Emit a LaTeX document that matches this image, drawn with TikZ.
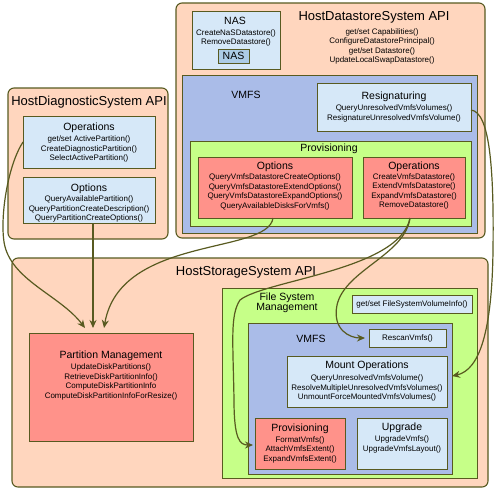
\documentclass[tikz,border=0pt]{standalone}
\usepackage{fontspec}
\setmainfont{Liberation Sans}
\usetikzlibrary{arrows.meta}
\definecolor{edgeline}{RGB}{88,90,32}
\definecolor{peach}{RGB}{255,214,190}
\definecolor{paleblue}{RGB}{214,232,248}
\definecolor{vmfsblue}{RGB}{170,188,232}
\definecolor{limegreen}{RGB}{198,255,136}
\definecolor{salmon}{RGB}{255,146,138}
\definecolor{tagblue}{RGB}{172,204,230}
\begin{document}
\begin{tikzpicture}[x=1pt,y=-1pt]
		\tikzstyle{every node}+=[inner sep=0pt, outer sep=0pt]
		\tikzstyle{api}=[draw=edgeline, fill=peach, line width=1.1pt, rounded corners=6pt]
		\tikzstyle{box}=[draw=edgeline, line width=1pt]
		\tikzstyle{apititle}=[font=\fontsize{13}{15}\selectfont]
		\tikzstyle{head}=[font=\fontsize{10.5}{11}\selectfont, align=center]
		\tikzstyle{calls}=[font=\fontsize{8}{9.5}\selectfont, align=center]
		\tikzstyle{conn}=[draw=edgeline, line width=1.2pt, -{Stealth[length=8pt,width=7pt]}]
		\useasboundingbox (0,0) rectangle (502,491);
		% HostDatastoreSystem
		\node [api, minimum width=309pt, minimum height=235pt] (dsapi) at (330.5,120.5) {};
		\node [apititle] (dsapi-t) at (374,17) {HostDatastoreSystem API};
		\node [calls] (dsapi-m) at (382,46.5) {get/set Capabilities()\\ConfigureDatastorePrincipal()\\get/set Datastore()\\UpdateLocalSwapDatastore()};
		\node [box, fill=paleblue, minimum width=88pt, minimum height=58pt] (nas) at (236,40) {};
		\node [head] (nas-t) at (235,21) {NAS};
		\node [calls] (nas-m) at (236,38) {CreateNaSDatastore()\\RemoveDatastore()};
		\node [box, fill=tagblue, minimum width=31pt, minimum height=14pt, font=\fontsize{10.5}{11}\selectfont] (nastag) at (233.5,56) {NAS};
		\node [box, fill=vmfsblue, minimum width=295pt, minimum height=158pt] (dsvmfs) at (329.5,154) {};
		\node [head] (dsvmfs-t) at (246,95) {VMFS};
		\node [box, fill=paleblue, minimum width=154pt, minimum height=48pt] (resig) at (394,107) {};
		\node [head] (resig-t) at (394,97) {Resignaturing};
		\node [calls] (resig-m) at (394,113.5) {QueryUnresolvedVmfsVolumes()\\ResignatureUnresolvedVmfsVolume()};
		\node [box, fill=limegreen, minimum width=281pt, minimum height=85pt] (dsprov) at (330.5,183.5) {};
		\node [head] (dsprov-t) at (329,149) {Provisioning};
		\node [box, fill=salmon, minimum width=154pt, minimum height=61pt] (dsopt) at (275,187.5) {};
		\node [head] (dsopt-t) at (275,167) {Options};
		\node [calls] (dsopt-m) at (275,192) {QueryVmfsDatastoreCreateOptions()\\QueryVmfsDatastoreExtendOptions()\\QueryVmfsDatastoreExpandOptions()\\QueryAvailableDisksForVmfs()};
		\node [box, fill=salmon, minimum width=102pt, minimum height=61pt] (dsops) at (414,187.5) {};
		\node [head] (dsops-t) at (414,167) {Operations};
		\node [calls] (dsops-m) at (414,191.5) {CreateVmfsDatastore()\\ExtendVmfsDatastore()\\ExpandVmfsDatastore()\\RemoveDatastore()};
		% HostDiagnosticSystem
		\node [api, minimum width=160pt, minimum height=151pt] (diag) at (88,163.5) {};
		\node [apititle] (diag-t) at (89,102) {HostDiagnosticSystem API};
		\node [box, fill=paleblue, minimum width=132pt, minimum height=52pt] (diagops) at (89,142) {};
		\node [head] (diagops-t) at (89,128) {Operations};
		\node [calls] (diagops-m) at (89,149) {get/set ActivePartition()\\CreateDiagnosticPartition()\\SelectActivePartition()};
		\node [box, fill=paleblue, minimum width=132pt, minimum height=46pt] (diagopt) at (89,200) {};
		\node [head] (diagopt-t) at (89,189) {Options};
		\node [calls] (diagopt-m) at (89,209) {QueryAvailablePartition()\\QueryPartitionCreateDescription()\\QueryPartitionCreateOptions()};
		% HostStorageSystem
		\node [api, minimum width=476pt, minimum height=229pt] (stor) at (250,372.5) {};
		\node [apititle] (stor-t) at (246,272) {HostStorageSystem API};
		\node [box, fill=salmon, minimum width=164pt, minimum height=108pt] (part) at (111,387) {};
		\node [head] (part-t) at (111,356) {Partition Management};
		\node [calls] (part-m) at (111,382) {UpdateDiskPartitions()\\RetrieveDiskPartitionInfo()\\ComputeDiskPartitionInfo\\ComputeDiskPartitionInfoForResize()};
		\node [box, fill=limegreen, minimum width=255pt, minimum height=190pt] (fsm) at (349.5,383) {};
		\node [head, font=\fontsize{10.5}{10}\selectfont] (fsm-t) at (287,303) {File System\\Management};
		\node [box, fill=paleblue, minimum width=120pt, minimum height=18pt, font=\fontsize{8}{9.5}\selectfont] (fsvi) at (412,304) {get/set FileSystemVolumeInfo()};
		\node [box, fill=vmfsblue, minimum width=204pt, minimum height=151pt] (stvmfs) at (350,398.5) {};
		\node [head] (stvmfs-t) at (311,339) {VMFS};
		\node [box, fill=paleblue, minimum width=77pt, minimum height=18pt, font=\fontsize{8}{9.5}\selectfont] (rescan) at (407.5,338) {RescanVmfs()};
		\node [box, fill=paleblue, minimum width=160pt, minimum height=51pt] (mount) at (367,381.5) {};
		\node [head] (mount-t) at (367,366) {Mount Operations};
		\node [calls] (mount-m) at (367,388) {QueryUnresolvedVmfsVolume()\\ResolveMultipleUnresolvedVmfsVolumes()\\UnmountForceMountedVmfsVolumes()};
		\node [box, fill=salmon, minimum width=90pt, minimum height=51pt] (stprov) at (300,443.5) {};
		\node [head] (stprov-t) at (300,429) {Provisioning};
		\node [calls] (stprov-m) at (300,449.5) {FormatVmfs()\\AttachVmfsExtent()\\ExpandVmfsExtent()};
		\node [box, fill=paleblue, minimum width=90pt, minimum height=51pt] (upgrade) at (402,443.5) {};
		\node [head] (upgrade-t) at (402,428) {Upgrade};
		\node [calls] (upgrade-m) at (402,444.5) {UpgradeVmfs()\\UpgradeVmfsLayout()};
		% connectors
		\coordinate (pm-in1) at (85,328);
		\coordinate (pm-in2) at (93,328);
		\coordinate (pm-in3) at (104,328);
		\coordinate (rescan-in) at (365,338);
		\coordinate (prov-in) at (253,445);
		\coordinate (mount-in) at (452,376);
		\draw [conn] (diagops.west) .. controls (8,165) and (0,215) .. (4,242) .. controls (10,280) and (60,295) .. (pm-in1);
		\draw [conn] (diagopt.south -| pm-in2) -- (pm-in2);
		\draw [conn] (dsopt.south -| 273,0) .. controls (268,255) and (120,235) .. (pm-in3);
		\draw [conn] (dsops.south -| 410,0) .. controls (405,255) and (345,270) .. (337,305) .. controls (332,330) and (350,338) .. (rescan-in);
		\draw [conn] (dsops.south -| 410,0) .. controls (400,270) and (265,280) .. (240,300) .. controls (230,315) and (233,340) .. (234,400) .. controls (234,440) and (240,445) .. (prov-in);
		\draw [conn] (resig.east |- 0,110) .. controls (490,112) and (494,170) .. (493,250) .. controls (492,330) and (480,370) .. (mount-in);
\end{tikzpicture}
\end{document}
